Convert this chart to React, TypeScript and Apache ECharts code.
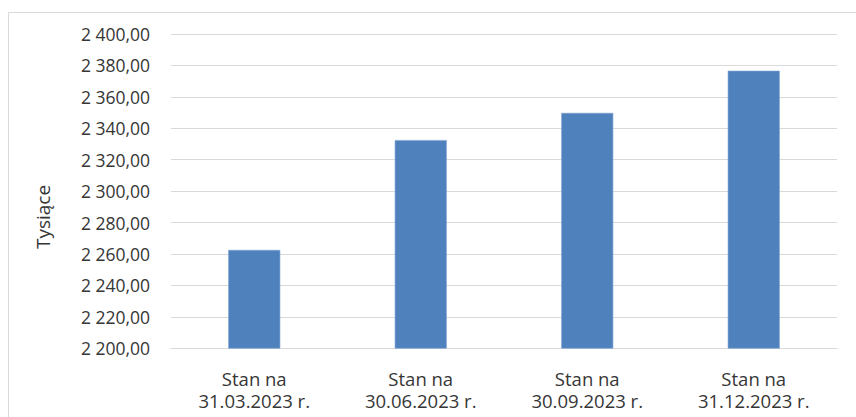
import React, { useEffect, useRef } from "react";
import * as echarts from "echarts";

const categories = [
  "Stan na\n31.03.2023 r.",
  "Stan na\n30.06.2023 r.",
  "Stan na\n30.09.2023 r.",
  "Stan na\n31.12.2023 r.",
];
const values = [2262.6, 2332.5, 2349.8, 2376.6];
const yMin = 2200;
const yMax = 2400;
const yStep = 20;
const axisName = "Tysiące";

const fmt = (v: number) => {
  const fixed = v.toFixed(2);
  const [intPart, dec] = fixed.split(".");
  const withSep = intPart.replace(/\B(?=(\d{3})+(?!\d))/g, " ");
  return `${withSep},${dec}`;
};

const FONT = "'Open Sans', 'Noto Sans', sans-serif";
const TEXT = "#363636";

export default function App() {
  const ref = useRef<HTMLDivElement>(null);
  useEffect(() => {
    document.body.style.margin = "0";
    const chart = echarts.init(ref.current!, null, { renderer: "svg" });
    chart.setOption({
      animation: false,
      backgroundColor: "#ffffff",
      grid: { left: 171, right: 19, top: 34, bottom: 68.7, containLabel: false },
      xAxis: {
        type: "category",
        data: categories,
        axisLine: { show: true, lineStyle: { color: "#d9d9d9", width: 1 } },
        axisTick: { show: false },
        axisLabel: {
          color: TEXT,
          fontFamily: FONT,
          fontSize: 18.5,
          lineHeight: 22,
          margin: 19,
          interval: 0,
        },
      },
      yAxis: {
        type: "value",
        min: yMin,
        max: yMax,
        interval: yStep,
        axisLine: { show: false },
        axisTick: { show: false },
        splitLine: { lineStyle: { color: "#d9d9d9", width: 1 } },
        axisLabel: {
          color: TEXT,
          fontFamily: FONT,
          fontSize: 17.5,
          margin: 21,
          formatter: (v: number) => fmt(v),
        },
      },
      series: [
        {
          type: "bar",
          data: values,
          barWidth: 52,
          itemStyle: { color: "#4F81BD", borderColor: "#7fa3d3", borderWidth: 0.6 },
        },
      ],
      graphic: [
        {
          type: "rect",
          shape: { x: 8.5, y: 12.5, width: 1000, height: 1000 },
          style: { fill: "none", stroke: "#d9d9d9", lineWidth: 1 },
          silent: true,
          z: -1,
        },
        {
          type: "text",
          x: 43,
          y: 217,
          rotation: Math.PI / 2,
          style: {
            text: axisName,
            fill: TEXT,
            font: `19px ${FONT}`,
            textAlign: "center",
            textVerticalAlign: "middle",
          },
        },
      ],
    });
    return () => chart.dispose();
  }, []);
  return (
    <div
      ref={ref}
      style={{ position: "absolute", left: 0, top: 0, width: 856, height: 417 }}
    />
  );
}
